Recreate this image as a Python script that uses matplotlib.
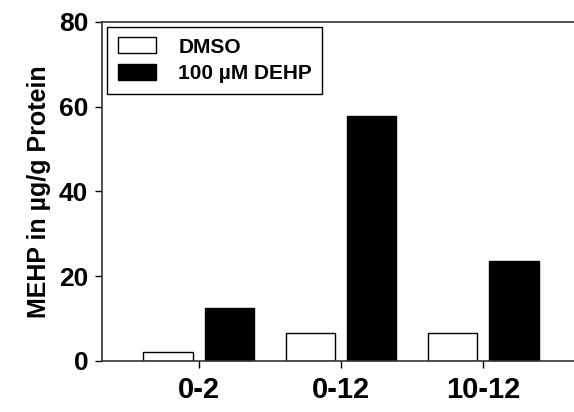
import numpy as np
import matplotlib
matplotlib.use("Agg")
import matplotlib.pyplot as plt

plt.rcParams['font.family'] = ['Liberation Sans', 'DejaVu Sans']
plt.rcParams['font.weight'] = 'bold'

categories = ["0-2", "0-12", "10-12"]
dmso = [2.2, 6.5, 6.5]
dehp = [12.6, 57.7, 23.5]
series_labels = ["DMSO", "100 \u00b5M DEHP"]

fig = plt.figure(figsize=(5.74, 4.12), dpi=100)
ax = fig.add_axes([0.178, 0.124, 0.832, 0.823])

x = np.arange(len(categories))
offset, width = 0.215, 0.35
ax.bar(x - offset, dmso, width, color="white", edgecolor="black", linewidth=1, label=series_labels[0])
ax.bar(x + offset, dehp, width, color="black", edgecolor="black", linewidth=1, label=series_labels[1])

ax.set_xlim(-0.68, 2.68)
ax.set_ylim(0, 80)
ax.set_yticks([0, 20, 40, 60, 80])
ax.set_xticks(x)
ax.set_xticklabels(categories, fontsize=21, fontweight="bold")
ax.tick_params(axis="y", labelsize=19, length=5, width=1, direction="out", pad=5)
ax.tick_params(axis="x", length=5, width=1, direction="out", pad=6)
for lab in ax.get_yticklabels():
    lab.set_fontweight("bold")

ax.set_ylabel("MEHP in \u00b5g/g Protein", fontsize=18, fontweight="bold", labelpad=6)

for side in ["left", "top", "bottom", "right"]:
    ax.spines[side].set_linewidth(1.2)
    ax.spines[side].set_color("#333333")

leg = ax.legend(loc="upper left", bbox_to_anchor=(0.0, 1.0), frameon=True,
                fancybox=False, edgecolor="black", framealpha=1, borderpad=0.5,
                borderaxespad=0.25, handlelength=1.85, handleheight=0.8, handletextpad=1.05,
                labelspacing=0.35, prop={"weight": "bold", "size": 15})
leg.get_frame().set_linewidth(1.0)

fig.savefig("out.png", dpi=100)
